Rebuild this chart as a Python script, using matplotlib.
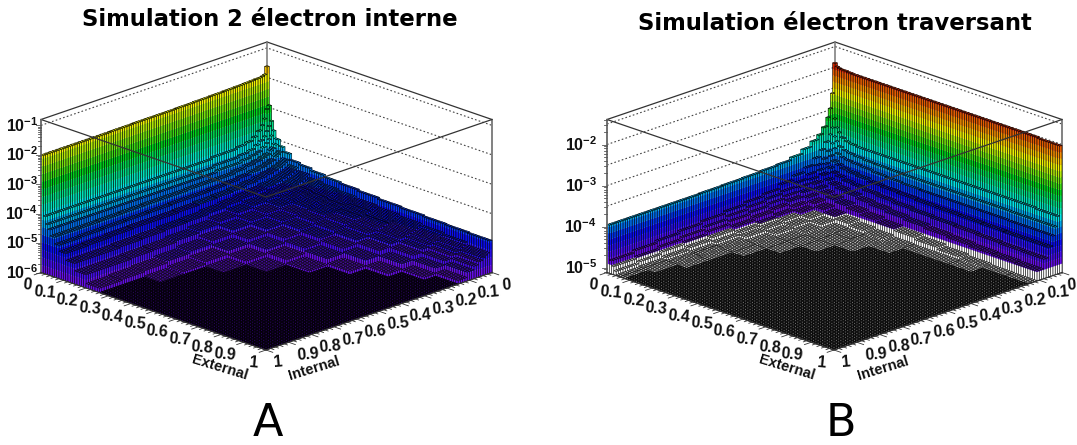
import numpy as np
import matplotlib
matplotlib.use("Agg")
import matplotlib.pyplot as plt
from matplotlib.collections import PolyCollection
from matplotlib.colors import LinearSegmentedColormap

plt.rcParams['font.family'] = ['Liberation Sans', 'DejaVu Sans']

# lego bins: how many of the 100 fine bins each table row/column covers
bin_counts = [1, 1, 1, 1, 2, 2, 3, 4, 5, 6, 7, 8, 9, 10, 10, 10, 10, 10]

# log10(content), rows = External, columns = Internal
logz_a = [
    [-1.6, -1.85, -1.88, -1.9, -1.9, -1.91, -1.92, -1.93, -1.94, -1.95, -1.96, -1.97, -1.98, -1.98, -1.99, -2.0, -2.0, -2.0],
    [-2.9, -3.0, -3.3, -3.5, -3.65, -3.8, -3.9, -3.95, -4.0, -4.0, -4.05, -4.05, -4.05, -4.05, -4.05, -4.05, -4.05, -4.05],
    [-3.4, -3.55, -3.7, -3.85, -3.95, -4.05, -4.15, -4.2, -4.25, -4.25, -4.3, -4.3, -4.3, -4.3, -4.3, -4.3, -4.3, -4.3],
    [-3.7, -3.85, -3.95, -4.05, -4.15, -4.25, -4.3, -4.35, -4.4, -4.4, -4.45, -4.45, -4.45, -4.45, -4.45, -4.45, -4.45, -4.45],
    [-3.95, -4.1, -4.2, -4.25, -4.35, -4.4, -4.45, -4.5, -4.55, -4.6, -4.6, -4.6, -4.62, -4.62, -4.63, -4.64, -4.65, -4.65],
    [-4.15, -4.3, -4.35, -4.4, -4.5, -4.55, -4.6, -4.65, -4.7, -4.75, -4.78, -4.8, -4.8, -4.82, -4.83, -4.84, -4.85, -4.87],
    [-4.3, -4.5, -4.55, -4.6, -4.65, -4.7, -4.75, -4.8, -4.85, -4.9, -4.93, -4.95, -4.98, -5.0, -5.0, -5.02, -5.05, -5.07],
    [-4.5, -4.65, -4.7, -4.75, -4.8, -4.85, -4.9, -4.95, -5.0, -5.05, -5.1, -5.15, -5.2, -5.22, -5.25, -5.27, -5.3, -5.3],
    [-4.55, -4.75, -4.8, -4.85, -4.9, -4.95, -5.0, -5.05, -5.1, -5.15, -5.22, -5.3, -5.38, -5.45, -5.5, -5.52, -5.55, -5.55],
    [-4.62, -4.85, -4.9, -4.95, -5.0, -5.03, -5.07, -5.12, -5.18, -5.25, -5.33, -5.42, -5.55, -5.65, -5.72, -5.78, -5.82, -5.85],
    [-4.68, -4.9, -4.95, -5.0, -5.05, -5.08, -5.12, -5.17, -5.25, -5.33, -5.42, -5.55, -5.7, -5.82, -5.9, -5.96, -7, -7],
    [-4.72, -4.95, -5.0, -5.05, -5.1, -5.13, -5.17, -5.22, -5.3, -5.4, -5.52, -5.68, -5.85, -5.97, -7, -7, -7, -7],
    [-4.76, -5.0, -5.05, -5.1, -5.13, -5.17, -5.2, -5.27, -5.36, -5.47, -5.62, -5.8, -5.97, -7, -7, -7, -7, -7],
    [-4.8, -5.05, -5.1, -5.15, -5.2, -5.22, -5.27, -5.33, -5.42, -5.55, -5.72, -5.92, -7, -7, -7, -7, -7, -7],
    [-4.83, -5.1, -5.15, -5.2, -5.25, -5.3, -5.35, -5.42, -5.52, -5.68, -5.88, -7, -7, -7, -7, -7, -7, -7],
    [-4.86, -5.15, -5.22, -5.27, -5.32, -5.38, -5.45, -5.55, -5.7, -5.88, -7, -7, -7, -7, -7, -7, -7, -7],
    [-4.88, -5.2, -5.28, -5.33, -5.4, -5.48, -5.58, -5.72, -5.9, -7, -7, -7, -7, -7, -7, -7, -7, -7],
    [-4.9, -5.3, -5.35, -5.4, -5.48, -5.58, -5.7, -5.88, -7, -7, -7, -7, -7, -7, -7, -7, -7, -7],
]

logz_b = [
    [-1.88, -2.6, -2.95, -3.15, -3.35, -3.5, -3.6, -3.72, -3.82, -3.88, -3.9, -3.92, -3.93, -3.94, -3.95, -3.95, -3.95, -3.95],
    [-1.95, -3.2, -3.4, -3.55, -3.7, -3.85, -4.0, -4.15, -4.25, -4.35, -4.45, -4.5, -4.55, -4.6, -4.65, -4.7, -4.75, -4.8],
    [-1.97, -3.4, -3.6, -3.75, -3.9, -4.05, -4.15, -4.3, -4.4, -4.5, -4.55, -4.6, -4.65, -4.72, -4.78, -4.83, -4.88, -4.92],
    [-1.98, -3.5, -3.7, -3.85, -4.0, -4.15, -4.25, -4.4, -4.5, -4.6, -4.65, -4.7, -4.75, -4.82, -4.88, -4.93, -4.98, -5.02],
    [-1.98, -3.6, -3.8, -3.95, -4.1, -4.22, -4.33, -4.47, -4.58, -4.68, -4.75, -4.8, -4.85, -4.92, -4.98, -5.03, -5.08, -5.1],
    [-1.99, -3.65, -3.85, -4.0, -4.15, -4.3, -4.42, -4.55, -4.67, -4.78, -4.85, -4.9, -4.95, -5.0, -5.06, -5.09, -5.1, -5.11],
    [-2.0, -3.68, -3.88, -4.03, -4.2, -4.35, -4.48, -4.62, -4.75, -4.85, -4.92, -4.96, -5.0, -5.06, -5.07, -5.08, -5.1, -7],
    [-2.0, -3.7, -3.9, -4.05, -4.23, -4.4, -4.53, -4.68, -4.82, -4.92, -4.98, -5.02, -5.07, -5.09, -5.1, -5.11, -7, -7],
    [-2.0, -3.7, -3.92, -4.07, -4.26, -4.43, -4.57, -4.73, -4.89, -4.98, -5.04, -5.08, -5.1, -5.11, -7, -7, -7, -7],
    [-2.0, -3.7, -3.93, -4.1, -4.3, -4.47, -4.62, -4.78, -4.95, -5.05, -5.08, -5.1, -5.11, -7, -7, -7, -7, -7],
    [-2.0, -3.7, -3.94, -4.12, -4.32, -4.5, -4.66, -4.83, -5.0, -5.07, -5.09, -5.11, -7, -7, -7, -7, -7, -7],
    [-2.0, -3.7, -3.95, -4.14, -4.34, -4.53, -4.7, -4.88, -5.04, -5.08, -5.11, -7, -7, -7, -7, -7, -7, -7],
    [-2.0, -3.7, -3.95, -4.15, -4.36, -4.56, -4.74, -4.93, -5.08, -5.11, -7, -7, -7, -7, -7, -7, -7, -7],
    [-2.0, -3.7, -3.95, -4.15, -4.37, -4.58, -4.78, -4.98, -5.1, -7, -7, -7, -7, -7, -7, -7, -7, -7],
    [-2.0, -3.7, -3.95, -4.15, -4.38, -4.6, -4.81, -5.03, -5.1, -7, -7, -7, -7, -7, -7, -7, -7, -7],
    [-2.0, -3.7, -3.95, -4.15, -4.39, -4.62, -4.84, -5.07, -5.11, -7, -7, -7, -7, -7, -7, -7, -7, -7],
    [-2.0, -3.7, -3.96, -4.16, -4.4, -4.64, -4.86, -5.1, -7, -7, -7, -7, -7, -7, -7, -7, -7, -7],
    [-2.02, -3.72, -3.96, -4.16, -4.4, -4.65, -4.88, -5.11, -7, -7, -7, -7, -7, -7, -7, -7, -7, -7],
]

xy_ticks = [0, 0.1, 0.2, 0.3, 0.4, 0.5, 0.6, 0.7, 0.8, 0.9, 1]
xy_labels = ["0", "0.1", "0.2", "0.3", "0.4", "0.5", "0.6", "0.7", "0.8", "0.9", "1"]
decades_a = [-6, -5, -4, -3, -2, -1]
decades_b = [-5, -4, -3, -2]
grid_a = [-5, -4, -3, -2, -1]
grid_b = [-4.5, -4, -3.5, -3, -2.5, -2, -1.5]

palette = LinearSegmentedColormap.from_list("rootrainbow", [
    (0.0, (0.45, 0.05, 0.90)), (0.19, (0.0, 0.05, 0.95)), (0.38, (0.0, 0.9, 0.9)),
    (0.58, (0.0, 0.82, 0.1)), (0.78, (0.95, 0.95, 0.0)), (0.88, (0.95, 0.55, 0.0)),
    (1.0, (0.8, 0.05, 0.0))])
N_LEVELS = 20

fig = plt.figure(figsize=(10.77, 4.45), dpi=100)
ax = fig.add_axes([0, 0, 1, 1])
ax.set_xlim(0, 1077)
ax.set_ylim(445, 0)
ax.axis('off')


def draw_lego(table, x_left, x_back, x_right, zlo, zhi, vmin, vmax, below_color,
              decades, grid, title, title_xy, letter, letter_xy, zlabel_x):
    y_top_left, y_bot_left, y_back_bot, y_front = 119.0, 272.0, 195.0, 350.0
    zscale = (y_bot_left - y_top_left) / (zhi - zlo)
    dxe = x_right - x_back
    dxi = x_back - x_left
    dy = (y_front - y_back_bot) / 2.0

    def proj(e, i, z):
        x = x_back + dxe * e - dxi * i
        y = y_back_bot + dy * (e + i) - (z - zlo) * zscale
        return (x, y)

    def level_color(z):
        if z < vmin:
            return below_color
        k = min(int((z - vmin) / (vmax - vmin) * N_LEVELS), N_LEVELS - 1)
        return palette((k + 0.5) / N_LEVELS)

    counts = np.array(bin_counts)
    z = np.repeat(np.repeat(np.array(table), counts, axis=0), counts, axis=1)
    z = np.maximum(z, zlo)
    nb = z.shape[0]
    edges = np.linspace(0, 1, nb + 1)
    levels = np.linspace(vmin, vmax, N_LEVELS + 1)

    polys, faces, lines, widths = [], [], [], []
    none = (0, 0, 0, 0)

    def add_wall(p, q, hi, lo):
        # p,q = (e,i) end points of the vertical face, split into colour bands
        if hi <= lo:
            return
        cuts = [lo] + [v for v in levels if lo < v < hi] + [hi]
        for c0, c1 in zip(cuts[:-1], cuts[1:]):
            col = level_color(0.5 * (c0 + c1))
            polys.append([proj(*p, c0), proj(*q, c0), proj(*q, c1), proj(*p, c1)])
            faces.append(col)
            lines.append(col)
            widths.append(0.15)
        polys.append([proj(*p, lo), proj(*q, lo), proj(*q, hi), proj(*p, hi)])
        faces.append(none)
        lines.append('black')
        widths.append(0.4)

    for a in range(nb):
        for b in range(nb):
            e0, e1, i0, i1 = edges[a], edges[a + 1], edges[b], edges[b + 1]
            h = z[a, b]
            next_e = z[a + 1, b] if a + 1 < nb else zlo
            next_i = z[a, b + 1] if b + 1 < nb else zlo
            polys.append([proj(e0, i0, h), proj(e1, i0, h), proj(e1, i1, h), proj(e0, i1, h)])
            faces.append(level_color(h))
            lines.append('black')
            widths.append(0.62 if h <= zlo else 0.35)
            add_wall((e1, i0), (e1, i1), h, next_e)
            add_wall((e0, i1), (e1, i1), h, next_i)

    # back walls and their dotted grid lines
    for g in grid:
        ax.plot(*zip(proj(0, 1, g), proj(0, 0, g), proj(1, 0, g)), color='#444444',
                lw=0.8, ls=(0, (1.5, 2)), zorder=1)
    ax.plot(*zip(proj(0, 1, zhi), proj(0, 0, zhi), proj(1, 0, zhi)), color='#333333', lw=0.9, zorder=1)
    ax.plot(*zip(proj(0, 0, zlo), proj(0, 0, zhi)), color='#777777', lw=1.1, zorder=1)
    ax.plot(*zip(proj(1, 0, zlo), proj(1, 0, zhi)), color='#777777', lw=1.3, zorder=1)

    ax.add_collection(PolyCollection(polys, facecolors=faces, edgecolors=lines,
                                     linewidths=widths, zorder=2))

    # top of the front box edges, drawn over the surface
    ax.plot(*zip(proj(0, 1, zhi), proj(1, 1, zhi), proj(1, 0, zhi)), color='#333333', lw=0.9, zorder=3)

    # z axis on the left corner
    ax.plot(*zip(proj(0, 1, zlo), proj(0, 1, zhi)), color='#666666', lw=1.3, zorder=3)
    for d in range(int(np.floor(zlo)), int(np.ceil(zhi))):
        for m in range(1, 10):
            v = d + np.log10(m)
            if zlo <= v <= zhi:
                x, y = proj(0, 1, v)
                ax.plot([x - (5.5 if m == 1 else 3), x], [y, y], color='#555555', lw=0.6, zorder=3)
    for d in decades:
        x, y = proj(0, 1, d)
        ax.text(zlabel_x, y, r'$\mathdefault{10^{%d}}$' % d, ha='right', va='center',
                fontsize=11.5, fontweight='bold', color='#111111')

    # External and Internal axes along the two front edges
    ax.plot(*zip(proj(0, 1, zlo), proj(1, 1, zlo), proj(1, 0, zlo)), color='#333333', lw=0.8, zorder=3)
    for k in range(51):
        t = k / 50.0
        ln = 0.03 if k % 5 == 0 else 0.015
        ax.plot(*zip(proj(t, 1, zlo), proj(t, 1 + ln, zlo)), color='#333333', lw=0.6, zorder=3)
        ax.plot(*zip(proj(1, t, zlo), proj(1 + ln, t, zlo)), color='#333333', lw=0.6, zorder=3)
    for t, lab in zip(xy_ticks, xy_labels):
        off = 14 if t == 0 else (12 if t == 1 else 19)
        x, y = proj(t, 1, zlo)
        ax.text(x - off, y + 12.5, lab, ha='center', va='center', fontsize=11.5,
                fontweight='bold', rotation=-5, color='#111111')
        x, y = proj(1, t, zlo)
        ax.text(min(x + off, 1071), y + 12.5, lab, ha='center', va='center', fontsize=11.5,
                fontweight='bold', rotation=5, color='#111111')
    ax.text(x_left + 0.79 * dxi, 367.5, "External", ha='center', va='center', fontsize=10.5,
            fontweight='bold', rotation=-17, color='#111111')
    ax.text(x_right - 0.79 * dxe, 368.5, "Internal", ha='center', va='center', fontsize=10.5,
            fontweight='bold', rotation=17, color='#111111')

    ax.text(title_xy[0], title_xy[1], title, ha='center', va='center', fontsize=16.4,
            fontweight='bold', family='DejaVu Sans', color='black')
    ax.text(letter_xy[0], letter_xy[1], letter, ha='center', va='center', fontsize=32,
            family='DejaVu Sans', color='black')


draw_lego(logz_a, 41, 267, 492, -6.0, -0.8, -6.0, -0.8, 'white', decades_a, grid_a,
          "Simulation 2 électron interne", (270, 19), "A", (268, 424), 38)
draw_lego(logz_b, 607, 835, 1062, -5.12, -1.39, -4.9, -1.88, 'white', decades_b, grid_b,
          "Simulation électron traversant", (835, 23), "B", (841, 423), 597)

fig.savefig("out.png", dpi=100)
